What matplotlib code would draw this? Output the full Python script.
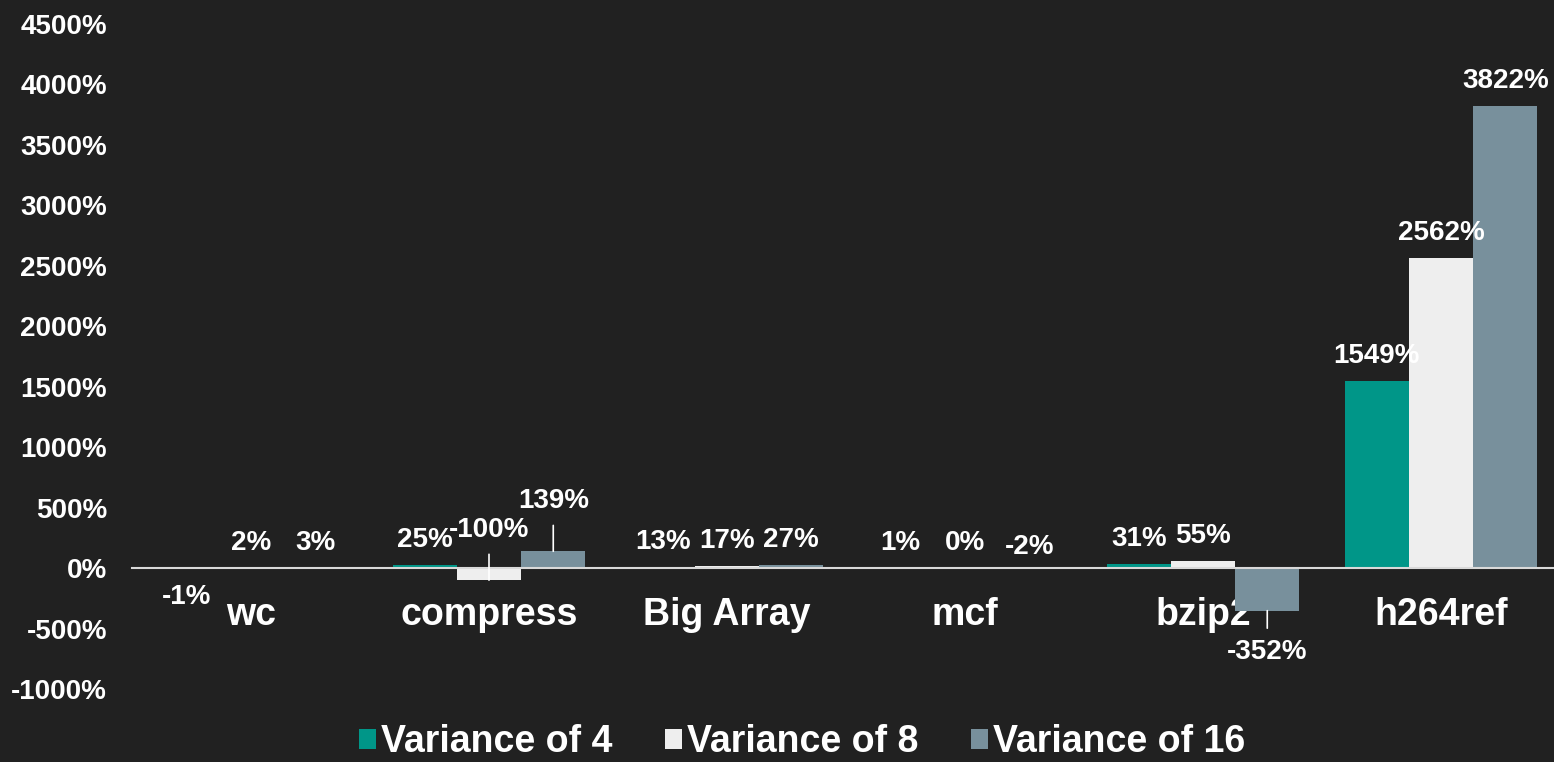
import matplotlib
matplotlib.use("Agg")
import matplotlib.pyplot as plt
from matplotlib.patches import Patch
from matplotlib import font_manager

categorias = ["wc", "compress", "Big Array", "mcf", "bzip2", "h264ref"]
series_nomes = ["Variance of 4", "Variance of 8", "Variance of 16"]
var4 = [-1, 25, 13, 1, 31, 1549]
var8 = [2, -100, 17, 0, 55, 2562]
var16 = [3, 139, 27, -2, -352, 3822]
yticks = list(range(-1000, 4501, 500))

CORES = ["#009688", "#eeeeee", "#78909c"]
FUNDO = "#212121"

# deslocamento dos rotulos (pontos) quando fogem do padrao
ajustes = {
    (0, 0): (-21, False),
    (1, 1): (36, True),
    (2, 1): (36, True),
    (2, 3): (15, False),
    (2, 4): (-30, True),
}

nomes_fontes = {f.name for f in font_manager.fontManager.ttflist}
fonte_legenda = "Liberation Sans Narrow" if "Liberation Sans Narrow" in nomes_fontes else "Liberation Sans"

plt.rcParams["font.family"] = ["Liberation Sans", "DejaVu Sans"]
plt.rcParams["font.weight"] = "bold"

fig = plt.figure(figsize=(15.54, 7.62), dpi=100, facecolor=FUNDO)
ax = fig.add_axes([132 / 1554, 1 - 689 / 762, 1428 / 1554, (689 - 24) / 762])
ax.set_facecolor(FUNDO)

largura = 0.27
valores = [var4, var8, var16]
for s, vals in enumerate(valores):
    xs = [i + (s - 1) * largura for i in range(len(categorias))]
    ax.bar(xs, vals, width=largura, color=CORES[s], zorder=2)
    for i, v in enumerate(vals):
        off, linha = ajustes.get((s, i), (18, False))
        kw = {}
        if linha:
            kw["arrowprops"] = dict(arrowstyle="-", color="white", lw=1.2,
                                    shrinkA=6, shrinkB=0)
        ax.annotate(f"{v}%", xy=(xs[i], v), xytext=(0, off),
                    textcoords="offset points", ha="center", va="center",
                    color="white", fontsize=20, fontweight="bold", zorder=4, **kw)

ax.set_xlim(-0.5, len(categorias) - 0.5)
ax.set_ylim(-1000, 4500)
ax.set_yticks(yticks)
ax.set_yticklabels([f"{v}%" for v in yticks])
ax.set_xticks(range(len(categorias)))
ax.set_xticklabels(categorias)

for lado in ["top", "right", "left"]:
    ax.spines[lado].set_visible(False)
ax.spines["bottom"].set_position(("data", 0))
ax.spines["bottom"].set_color("#d9d9d9")
ax.spines["bottom"].set_linewidth(1.5)
ax.spines["bottom"].set_zorder(3)

ax.tick_params(axis="y", length=0, pad=18, labelsize=20, labelcolor="white")
ax.tick_params(axis="x", length=0, pad=21, labelsize=27, labelcolor="white")
for t in ax.get_xticklabels() + ax.get_yticklabels():
    t.set_fontweight("bold")

handles = [Patch(facecolor=c, edgecolor="none") for c in CORES]
fig.legend(handles, series_nomes, loc="center", bbox_to_anchor=(0.516, 0.026),
           ncol=3, frameon=False, handlelength=0.46, handleheight=0.46,
           handletextpad=0.13, columnspacing=1.4, borderpad=0.1,
           prop={"family": fonte_legenda, "weight": "bold", "size": 27},
           labelcolor="white")

fig.savefig("out.png", dpi=100, facecolor=FUNDO)
